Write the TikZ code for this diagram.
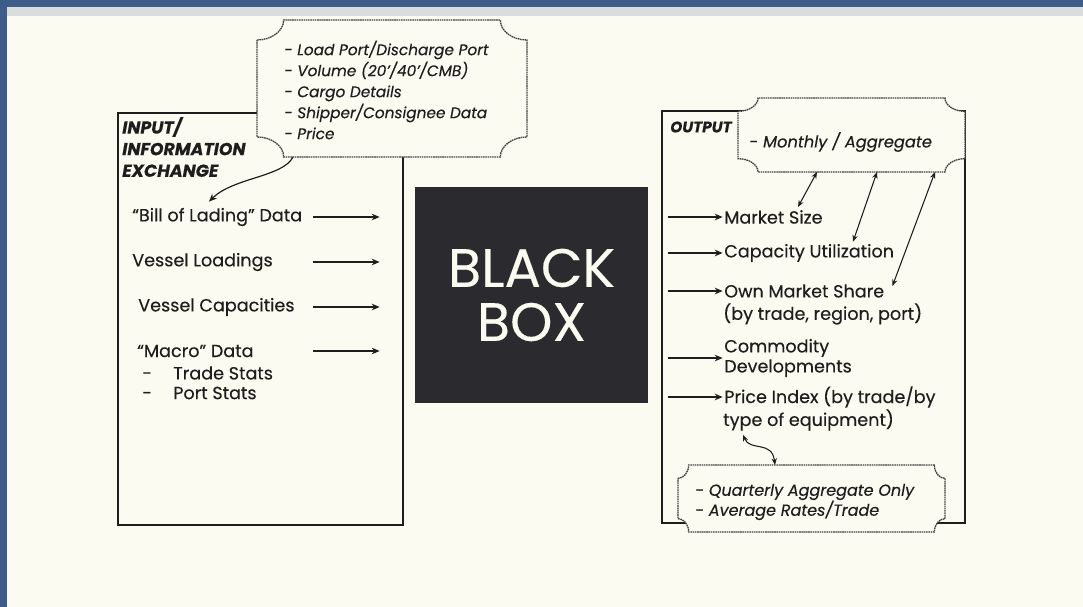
\documentclass[tikz,border=0pt]{standalone}
\usepackage{fontspec}
\setmainfont{Poppins}[FakeBold=0.3]
\usetikzlibrary{arrows.meta,calc}
\definecolor{page}{HTML}{FCFBF2}
\definecolor{frame}{HTML}{3E5C8A}
\definecolor{bar}{HTML}{DADDDD}
\definecolor{ink}{HTML}{1E1E1E}
\definecolor{bbox}{HTML}{2A2A2F}
\newcommand{\plaque}[3]{%
  \draw[plq] ($(#1.north west)+(0pt,-#3)$) arc[start angle=270,end angle=360,x radius=#2,y radius=#3]
  -- ($(#1.north east)+(-#2,0pt)$) arc[start angle=180,end angle=270,x radius=#2,y radius=#3]
  -- ($(#1.south east)+(0pt,#3)$) arc[start angle=90,end angle=180,x radius=#2,y radius=#3]
  -- ($(#1.south west)+(#2,0pt)$) arc[start angle=0,end angle=90,x radius=#2,y radius=#3]
  -- cycle;}
\tikzset{
  txt/.style={inner sep=0pt, anchor=west, text=ink, font=\fontsize{13.2}{15}\selectfont},
  headtxt/.style={inner sep=0pt, anchor=west, align=left, text=ink, font=\fontsize{13}{16.2}\selectfont\bfseries\itshape},
  ctxt/.style={inner sep=0pt, anchor=west, align=left, text=ink, font=\fontsize{11.5}{15.75}\selectfont\itshape},
  panel/.style={draw=ink, line width=1.4pt, inner sep=0pt, outer sep=0pt, anchor=north west},
  blank/.style={inner sep=0pt, outer sep=0pt, anchor=north west},
  plq/.style={draw=ink!85, fill=page, line width=1pt, dash pattern=on 1.2pt off 0.5pt},
  arr/.style={-{Stealth[length=6pt,width=5pt]}, line width=1.2pt, draw=ink, shorten >=1pt},
  darr/.style={{Stealth[length=5pt,width=4pt]}-{Stealth[length=5pt,width=4pt]}, line width=0.8pt, draw=ink},
}
\begin{document}
\begin{tikzpicture}[x=0.75pt,y=-0.75pt]
\useasboundingbox (0,0) rectangle (1083,607);
% page background and screen frame
\fill[page] (0,0) rectangle (1083,607);
\fill[frame] (0,0) rectangle (1083,7);
\fill[frame] (0,0) rectangle (7,607);
\fill[bar] (7,7) rectangle (1083,16);

% panels
\node[panel, minimum width=213.75pt, minimum height=309pt] (inbox) at (118,113) {};
\node[panel, minimum width=227.25pt, minimum height=309pt] (outbox) at (662,111) {};
\node[fill=bbox, minimum width=174.75pt, minimum height=162pt, inner sep=0pt, text=page,
      align=center, font=\fontsize{40.5}{40.5}\selectfont] (bb) at (531.5,295) {BLACK\\BOX};

% callouts
\node[blank, minimum width=202.5pt, minimum height=102.75pt] (load) at (257,20) {};
\plaque{load}{20pt}{15pt}
\node[blank, minimum width=170.25pt, minimum height=55.5pt] (mon) at (738,98) {};
\plaque{mon}{15pt}{10pt}
\node[blank, minimum width=200.25pt, minimum height=50.25pt] (qtr) at (678,465) {};
\plaque{qtr}{8pt}{10pt}

\node[ctxt] (loadtxt) at (284,90) {- Load Port/Discharge Port\\- Volume (20'/40'/CMB)\\- Cargo Details\\- Shipper/Consignee Data\\- Price};
\node[ctxt, font=\fontsize{12.2}{14}\selectfont\itshape] (montxt) at (749,142) {- Monthly / Aggregate};
\node[ctxt, font=\fontsize{12}{15}\selectfont\itshape] (qtrtxt) at (695,502) {- Quarterly Aggregate Only\\- Average Rates/Trade};

% left texts
\node[headtxt] (inhead) at (122,147) {INPUT/\\INFORMATION\\EXCHANGE};
\node[txt] (bill) at (132,217) {“Bill of Lading” Data};
\node[txt] (vload) at (132,262) {Vessel Loadings};
\node[txt] (vcap) at (138,307) {Vessel Capacities};
\node[txt] (macro) at (137,351) {“Macro” Data};
\node[txt] (trade) at (142,373) {\makebox[23.25pt][l]{-}Trade Stats};
\node[txt] (port) at (142,393) {\makebox[23.25pt][l]{-}Port Stats};

% right texts
\node[headtxt, font=\fontsize{11.5}{14}\selectfont\bfseries\itshape] (outhead) at (670,127) {OUTPUT};
\node[txt] (msize) at (724,217) {Market Size};
\node[txt] (caput) at (724,253) {Capacity Utilization};
\node[txt] (own) at (724,291) {Own Market Share};
\node[txt] (ownb) at (723,314) {(by trade, region, port)};
\node[txt, align=left, font=\fontsize{13.2}{15}\selectfont] (comm) at (724,358) {Commodity\\Developments};
\node[txt] (price) at (724,397) {Price Index (by trade/by};
\node[txt] (ptype) at (723,420) {type of equipment)};

% input arrows
\coordinate (lin) at (313,0);
\coordinate (lout) at (381,0);
\foreach \n in {bill,vload,vcap,macro}
  \draw[arr] (\n.west -| lin) -- (\n.west -| lout);

% output arrows
\coordinate (rin) at (668,0);
\foreach \n in {msize,caput,own,comm,price}
  \draw[arr] (\n.west -| rin) -- (\n.west);

% curved arrow from the bill-of-lading callout
\draw[arr, line width=0.9pt] ($(load.south west)+(36,0)$) .. controls +(-10,20) and +(25,-25) .. ($(bill.north west)+(76,-5)$);

% double arrows
\draw[darr] ($(mon.south west)+(79,0)$) -- ($(msize.north west)+(74,-3)$);
\draw[darr] ($(mon.south west)+(139,0)$) -- ($(caput.north west)+(129,-2)$);
\draw[darr] ($(mon.south west)+(197,0)$) -- ($(own.east)+(8,-5)$);
\draw[darr] ($(ptype.south west)+(20,4)$) .. controls +(7,17) and +(-3,-25) .. ($(qtr.north west)+(97,0)$);
\end{tikzpicture}
\end{document}
